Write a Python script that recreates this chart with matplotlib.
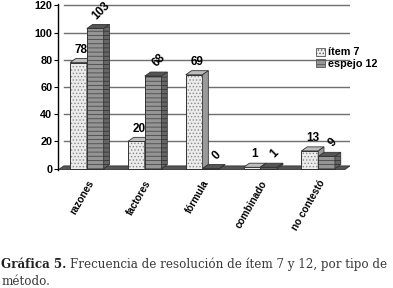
import numpy as np
import matplotlib.pyplot as plt
from matplotlib.patches import Polygon, Patch
from matplotlib.transforms import ScaledTranslation

plt.rcParams['font.family'] = ['Liberation Sans', 'DejaVu Sans']
plt.rcParams['hatch.linewidth'] = 0.6

# datos
categorias = ['razones', 'factores', 'fórmula', 'combinado', 'no contestó']
item7 = [78, 20, 69, 1, 13]
espejo12 = [103, 68, 0, 1, 9]
serie_nombres = ['ítem 7', 'espejo 12']
yticks = [0, 20, 40, 60, 80, 100, 120]

fig = plt.figure(figsize=(3.93, 2.88), dpi=100)
ax = fig.add_axes([58 / 393, 1 - 170 / 288, 292 / 393, 166 / 288])

x = np.arange(len(categorias))
w = 0.29
dx, dy = 0.1, 3.0  # profundidad del efecto 3D

# rejilla
for yv in yticks[1:]:
    ax.plot([-0.5 + dx, 4.55], [yv, yv], color='#6f6f6f', lw=1.0, zorder=0)

# suelo
suelo = Polygon([[-0.5, -1.0], [4.45, -1.0], [4.55, dy - 1.0], [-0.5 + dx, dy - 1.0]],
                closed=True, facecolor='#555555', edgecolor='#333333', lw=0.6, zorder=1)
ax.add_patch(suelo)

estilos = [
    dict(face='#ececec', hatch='.....', hcol='#8a8a8a', top='#bdbdbd', side='#9a9a9a'),
    dict(face='#959595', hatch='----', hcol='#4a4a4a', top='#555555', side='#666666'),
]

for s, (vals, est) in enumerate(zip([item7, espejo12], estilos)):
    xs = x - w / 2 + s * w
    bars = ax.bar(xs, vals, width=w, facecolor=est['face'], edgecolor=est['hcol'],
                  hatch=est['hatch'], lw=0.0, zorder=3 + s)
    ax.bar(xs, vals, width=w, facecolor='none', edgecolor='#333333', lw=0.7, zorder=3 + s)
    for b, v in zip(bars, vals):
        x0 = b.get_x()
        x1 = x0 + w
        top = Polygon([[x0, v], [x1, v], [x1 + dx, v + dy], [x0 + dx, v + dy]],
                      closed=True, facecolor=est['top'], edgecolor='#333333', lw=0.6,
                      zorder=3 + s)
        side = Polygon([[x1, 0], [x1 + dx, dy], [x1 + dx, v + dy], [x1, v]],
                       closed=True, facecolor=est['side'], edgecolor='#333333', lw=0.6,
                       zorder=3 + s, hatch=est['hatch'] if s == 1 else None)
        ax.add_patch(top)
        ax.add_patch(side)
        if s == 0:
            ax.text(x0 + w / 2 + dx / 2, v + dy + 2, str(v), ha='center', va='bottom',
                    fontsize=8.5, fontweight='bold', zorder=10)
        else:
            ax.text(x0 + w / 2 + dx, v + dy + 2, str(v), ha='center', va='bottom',
                    fontsize=8.5, fontweight='bold', rotation=45, zorder=10)

ax.set_xlim(-0.5, 4.55)
ax.set_ylim(-1, 121)
ax.set_yticks(yticks)
ax.set_yticklabels([str(t) for t in yticks], fontsize=7.8, fontweight='bold')
ax.set_xticks(x)
ax.set_xticklabels(categorias, rotation=60, ha='right', rotation_mode='anchor',
                   fontsize=7.2, fontweight='bold')
desplaza = ScaledTranslation(-5 / 100, 0, fig.dpi_scale_trans)
for lab in ax.get_xticklabels():
    lab.set_transform(lab.get_transform() + desplaza)
ax.tick_params(axis='x', length=0, pad=6)
ax.tick_params(axis='y', length=3, width=0.8, pad=1)
for lado in ['top', 'right', 'bottom']:
    ax.spines[lado].set_visible(False)
ax.spines['left'].set_linewidth(1.0)

handles = [Patch(facecolor=e['face'], edgecolor='#555555', hatch=e['hatch'], lw=0.6)
           for e in estilos]
fig.legend(handles, serie_nombres, loc='upper left', bbox_to_anchor=(311 / 393, 1 - 42 / 288),
           frameon=False, prop={'weight': 'bold', 'size': 7.8},
           handlelength=0.8, handleheight=0.8, handletextpad=0.3, labelspacing=0.15,
           borderpad=0.0)

# pie de figura
col = '#3a3a3a'
tam = 8.6
t1 = fig.text(0.003, 1 - 268 / 288, 'Gráfica 5.', fontsize=tam, fontweight='bold',
              family='DejaVu Serif', color='#222222', va='baseline')
fig.canvas.draw()
bb = t1.get_window_extent()
fig.text(bb.x1 / fig.bbox.width + 0.008, 1 - 268 / 288,
         'Frecuencia de resolución de ítem 7 y 12, por tipo de',
         fontsize=tam, family='DejaVu Serif', color=col, va='baseline')
fig.text(0.003, 1 - 285 / 288, 'método.', fontsize=tam, family='DejaVu Serif',
         color=col, va='baseline')

fig.savefig('out.png', dpi=100)
